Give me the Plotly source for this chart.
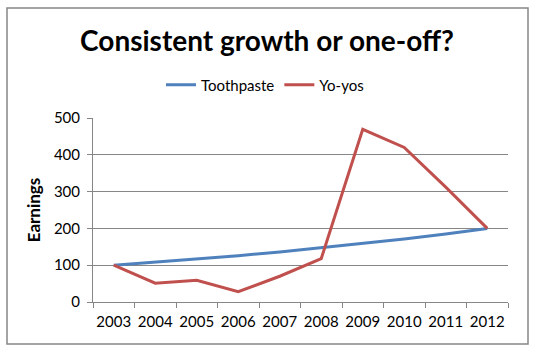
import plotly.graph_objects as go

years = ["2003", "2004", "2005", "2006", "2007", "2008", "2009", "2010", "2011", "2012"]
toothpaste = [100, 108, 117, 126, 136, 147, 159, 171, 185, 200]
yoyos = [100, 51, 59, 28, 70, 118, 469, 420, 312, 200]

FONT = "Lato"
GRID = "#868686"

fig = go.Figure()
fig.add_trace(go.Scatter(x=years, y=toothpaste, name="Toothpaste", mode="lines",
                         line=dict(color="#4F81BD", width=3)))
fig.add_trace(go.Scatter(x=years, y=yoyos, name="Yo-yos", mode="lines",
                         line=dict(color="#C0504D", width=3)))

fig.update_layout(
    width=536, height=354,
    margin=dict(l=93, r=28, t=118, b=52),
    paper_bgcolor="white", plot_bgcolor="white",
    font=dict(family=FONT, size=14, color="#000000"),
    title=dict(text="<b>Consistent growth or one-off?</b>", x=267 / 536, xanchor="center",
               y=(354 - 41) / 354, yanchor="middle",
               font=dict(family=FONT, size=28, color="#000000")),
    legend=dict(orientation="h", xref="container", x=265 / 536, xanchor="center",
                y=(354 - 85) / 354, yref="container", yanchor="middle",
                font=dict(size=15), itemwidth=30, tracegroupgap=0),
    showlegend=True,
    xaxis=dict(type="category", showgrid=False, showline=True, linecolor=GRID, linewidth=1,
               ticks="outside", tickson="boundaries", ticklen=5, tickcolor=GRID,
               tickfont=dict(size=15), range=[-0.5, 9.5], ticklabelstandoff=6,
               tickangle=0, automargin=False),
    yaxis=dict(range=[0, 500], dtick=100, showgrid=True, gridcolor=GRID, gridwidth=1,
               showline=True, linecolor=GRID, linewidth=1, ticks="outside", ticklen=5,
               tickcolor=GRID, tickfont=dict(size=15), zeroline=False, ticklabelstandoff=4,
               automargin=False,
               title=dict(text="<b>Earnings</b>", font=dict(size=17), standoff=8)),
)

# outer chart border
fig.add_shape(type="rect", xref="paper", yref="paper",
              x0=(7 - 93) / 415, x1=(528 - 93) / 415,
              y0=(302 - 344) / 184, y1=(302 - 8) / 184,
              line=dict(color=GRID, width=1.5), fillcolor="rgba(0,0,0,0)", layer="below")

fig.write_html("out.html")
